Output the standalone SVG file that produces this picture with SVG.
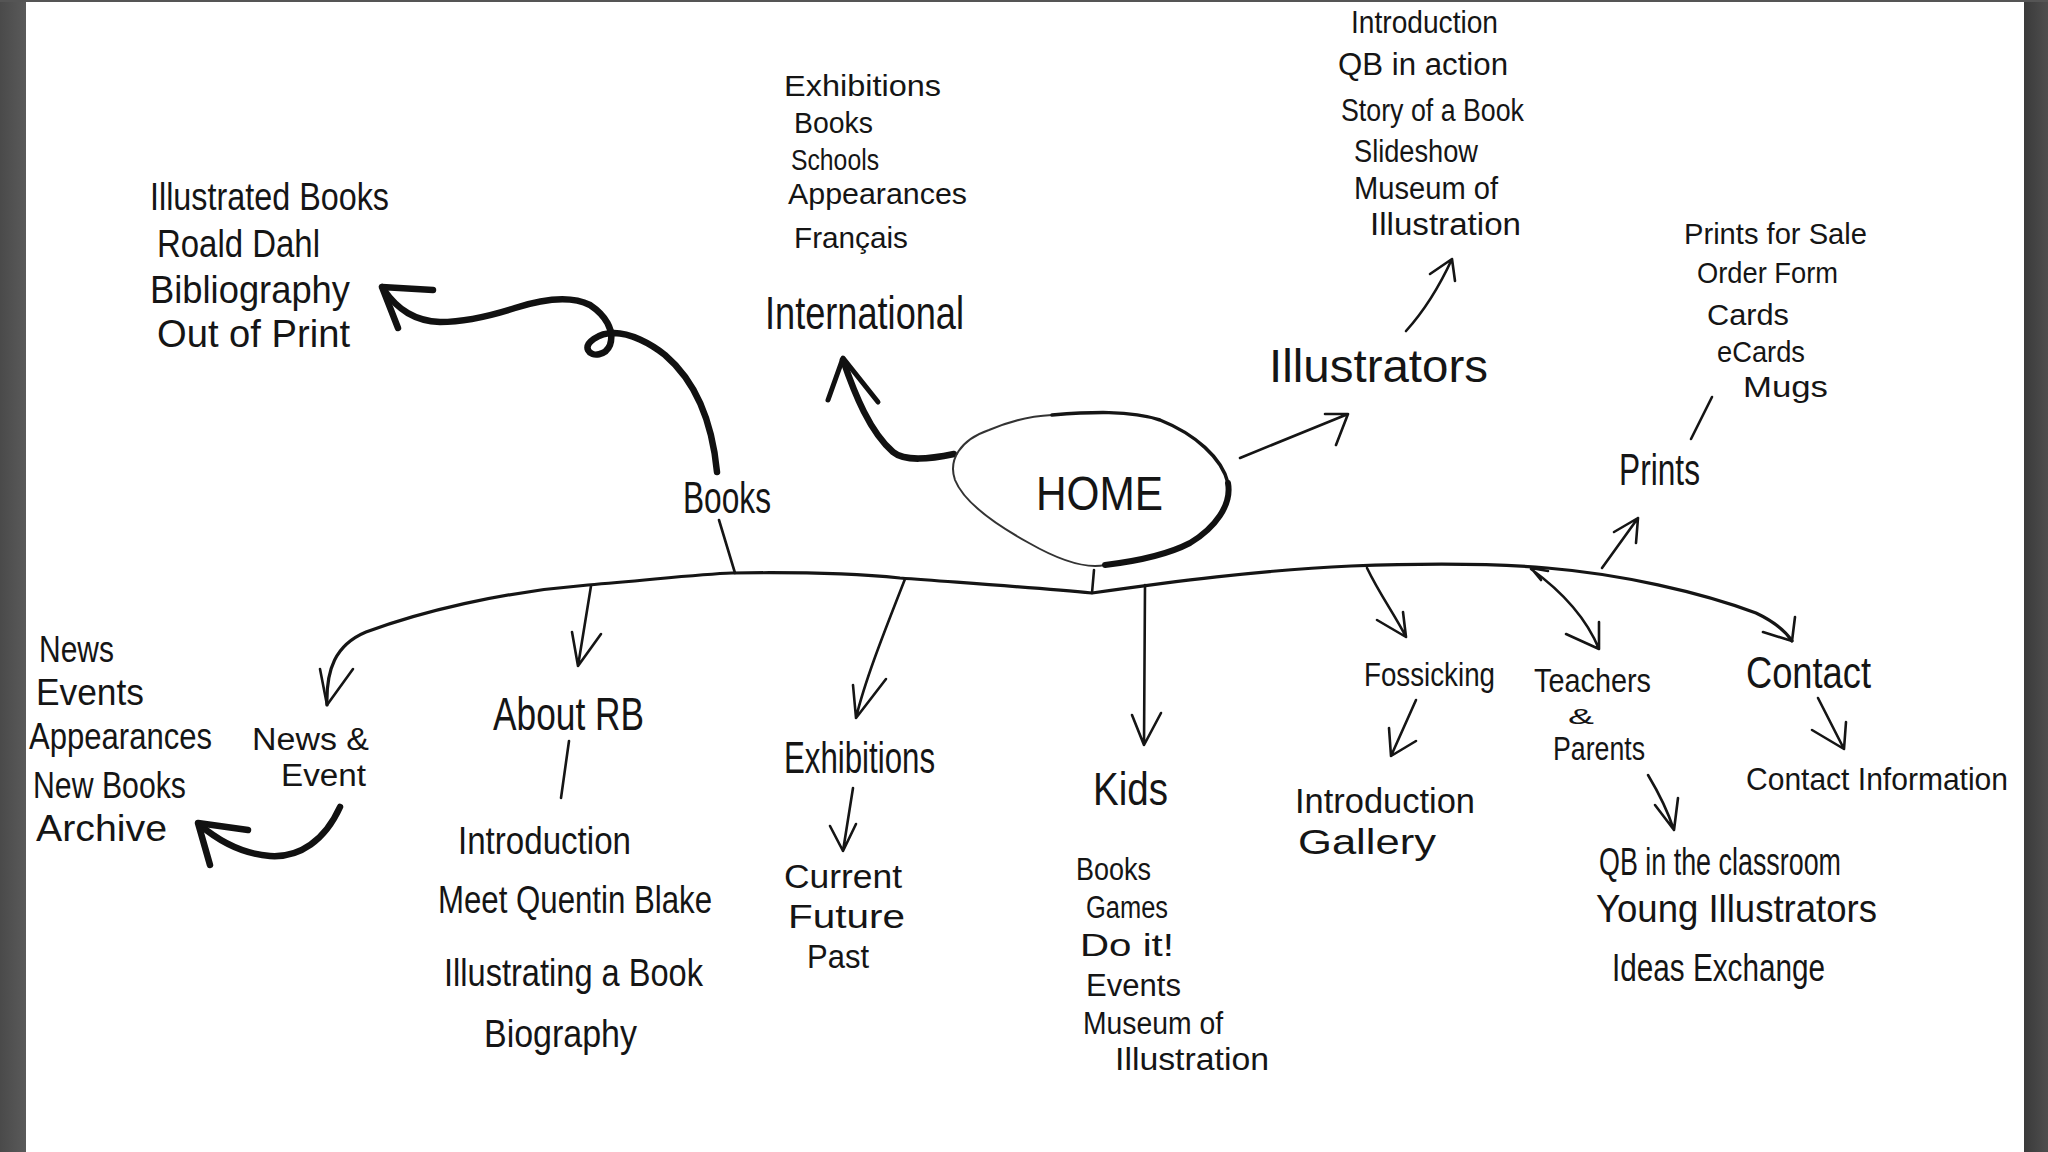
<svg xmlns="http://www.w3.org/2000/svg" width="2048" height="1152" viewBox="0 0 2048 1152">
<style>
.t{font-family:"Liberation Sans","DejaVu Sans",Arial,sans-serif;fill:#151515;}
.f22{font-size:22px}.f30{font-size:30px}.f31{font-size:31px}.f34{font-size:34px}.f35{font-size:35px}.f37{font-size:37px}.f38{font-size:38px}.f42{font-size:42px}.f44{font-size:44px}.f46{font-size:46px}.f48{font-size:48px}
.ln{fill:none;stroke:#151515;stroke-width:2.6;stroke-linecap:round;stroke-linejoin:round}
.main{fill:none;stroke:#151515;stroke-width:3.2;stroke-linecap:round;stroke-linejoin:round}
.thick{fill:none;stroke:#111;stroke-width:6.5;stroke-linecap:round;stroke-linejoin:round}
.thin{fill:none;stroke:#333;stroke-width:2;stroke-linecap:round}
</style>
<defs>
<linearGradient id="gl" x1="0" x2="1" y1="0" y2="0"><stop offset="0" stop-color="#4a4a4a"/><stop offset="1" stop-color="#5a5a5a"/></linearGradient>
<linearGradient id="gr" x1="0" x2="1" y1="0" y2="0"><stop offset="0" stop-color="#3a3a3a"/><stop offset="1" stop-color="#4e4e4e"/></linearGradient>
</defs>
<rect x="0" y="0" width="2048" height="1152" fill="#ffffff"/>
<rect x="0" y="0" width="26" height="1152" fill="url(#gl)"/>
<rect x="2024" y="0" width="24" height="1152" fill="url(#gr)"/>
<rect x="0" y="0" width="2048" height="2" fill="#555"/>

<g id="connectors">
<path class="main" d="M 327 705 C 326 670 335 645 366 632 C 420 612 500 592 588 585 C 650 580 700 574 732 573 C 800 572 860 574 900 578 C 980 584 1040 588 1092 593 C 1170 582 1260 570 1351 566 C 1430 563 1500 564 1547 568 C 1620 574 1700 592 1756 613 C 1775 622 1786 632 1792 641"/>
<path class="ln" d="M 320 669 L 327 705 L 353 669"/>
<path class="ln" d="M 1763 632 L 1792 641 L 1795 617"/>
<path class="ln" d="M 1094 570 L 1092 593"/>
<path class="ln" d="M 719 520 L 735 573"/>
<path class="ln" d="M 591 586 L 578 666 M 572 632 L 578 666 L 601 634"/>
<path class="ln" d="M 905 579 C 885 630 865 680 856 718 M 853 685 L 856 718 L 886 679"/>
<path class="ln" d="M 1145 585 L 1144 745 M 1132 715 L 1144 745 L 1161 713"/>
<path class="ln" d="M 1367 568 C 1380 595 1395 615 1406 637 M 1377 620 L 1406 637 L 1403 612"/>
<path class="ln" d="M 1531 569 C 1560 590 1585 615 1599 649 M 1566 634 L 1599 649 L 1599 622 M 1548 571 L 1531 568 L 1541 580"/>
<path class="ln" d="M 1602 568 L 1638 518 M 1614 532 L 1638 518 L 1636 543"/>
<path class="ln" d="M 1691 439 L 1712 397"/>
<path class="ln" d="M 1240 458 L 1348 414 M 1325 414 L 1348 414 L 1336 445"/>
<path class="ln" d="M 1406 331 C 1425 310 1440 285 1452 259 M 1430 274 L 1452 259 L 1455 281"/>
<path class="ln" d="M 569 741 L 561 798"/>
<path class="ln" d="M 853 788 L 843 851 M 830 826 L 843 851 L 856 824"/>
<path class="ln" d="M 1416 700 L 1391 756 M 1389 728 L 1391 756 L 1416 741"/>
<path class="ln" d="M 1648 775 C 1660 795 1668 812 1674 830 M 1655 805 L 1674 830 L 1678 798"/>
<path class="ln" d="M 1818 698 L 1844 749 M 1812 730 L 1844 749 L 1846 722"/>
<path class="thick" d="M 717 472 C 713 430 700 385 665 355 C 650 343 630 333 614 333 C 598 333 585 343 588 350 C 592 358 606 355 610 345 C 615 330 605 315 590 305 C 570 295 540 300 515 308 C 490 316 465 322 440 322 C 415 321 398 310 384 290"/>
<path class="thick" d="M 382 287 L 433 290 M 382 287 L 398 328"/>
<path class="thick" d="M 954 454 C 930 459 905 462 893 452 C 870 432 855 395 843 360"/>
<path class="thick" d="M 828 400 L 843 358 L 878 402" style="stroke-width:5"/>
<path class="thick" d="M 340 807 C 325 840 300 858 270 856 C 245 854 220 842 200 825"/>
<path class="thick" d="M 248 830 L 198 823 L 210 865"/>
</g>

<g id="node-home">
<path class="thin" d="M 1105 565 C 1080 570 1050 555 1029 543 C 1000 527 965 505 955 480 C 948 460 960 440 989 430 C 1010 421 1030 416 1052 415"/>
<path fill="none" stroke="#151515" stroke-width="3.5" stroke-linecap="round" d="M 1052 415 C 1090 412 1130 410 1160 420 C 1195 434 1222 458 1228 483"/>
<path fill="none" stroke="#111" stroke-width="6" stroke-linecap="round" d="M 1228 483 C 1232 505 1215 528 1190 543 C 1165 556 1130 562 1105 565"/>
<text class="t f48" x="1036" y="510" textLength="127" lengthAdjust="spacingAndGlyphs">HOME</text>
</g>

<g id="node-books">
<text class="t f44" x="683" y="513" textLength="88" lengthAdjust="spacingAndGlyphs">Books</text>
</g>
<g id="node-books-list">
<text class="t f38" x="150" y="210" textLength="239" lengthAdjust="spacingAndGlyphs">Illustrated Books</text>
<text class="t f38" x="157" y="257" textLength="163" lengthAdjust="spacingAndGlyphs">Roald Dahl</text>
<text class="t f38" x="150" y="303" textLength="200" lengthAdjust="spacingAndGlyphs">Bibliography</text>
<text class="t f38" x="157" y="347" textLength="193" lengthAdjust="spacingAndGlyphs">Out of Print</text>
</g>

<g id="node-international">
<text class="t f46" x="765" y="329" textLength="199" lengthAdjust="spacingAndGlyphs">International</text>
</g>
<g id="node-international-list">
<text class="t f30" x="784" y="96" textLength="157" lengthAdjust="spacingAndGlyphs">Exhibitions</text>
<text class="t f30" x="794" y="133" textLength="79" lengthAdjust="spacingAndGlyphs">Books</text>
<text class="t f30" x="791" y="170" textLength="88" lengthAdjust="spacingAndGlyphs">Schools</text>
<text class="t f30" x="788" y="204" textLength="179" lengthAdjust="spacingAndGlyphs">Appearances</text>
<text class="t f30" x="794" y="248" textLength="114" lengthAdjust="spacingAndGlyphs">Français</text>
</g>

<g id="node-illustrators">
<text class="t f46" x="1269" y="382" textLength="219" lengthAdjust="spacingAndGlyphs">Illustrators</text>
</g>
<g id="node-illustrators-list">
<text class="t f31" x="1351" y="33" textLength="147" lengthAdjust="spacingAndGlyphs">Introduction</text>
<text class="t f31" x="1338" y="75" textLength="170" lengthAdjust="spacingAndGlyphs">QB in action</text>
<text class="t f31" x="1341" y="121" textLength="183" lengthAdjust="spacingAndGlyphs">Story of a Book</text>
<text class="t f31" x="1354" y="162" textLength="124" lengthAdjust="spacingAndGlyphs">Slideshow</text>
<text class="t f31" x="1354" y="199" textLength="144" lengthAdjust="spacingAndGlyphs">Museum of</text>
<text class="t f31" x="1370" y="235" textLength="151" lengthAdjust="spacingAndGlyphs">Illustration</text>
</g>

<g id="node-prints">
<text class="t f44" x="1619" y="485" textLength="81" lengthAdjust="spacingAndGlyphs">Prints</text>
</g>
<g id="node-prints-list">
<text class="t f30" x="1684" y="244" textLength="183" lengthAdjust="spacingAndGlyphs">Prints for Sale</text>
<text class="t f30" x="1697" y="283" textLength="141" lengthAdjust="spacingAndGlyphs">Order Form</text>
<text class="t f30" x="1707" y="325" textLength="82" lengthAdjust="spacingAndGlyphs">Cards</text>
<text class="t f30" x="1717" y="362" textLength="88" lengthAdjust="spacingAndGlyphs">eCards</text>
<text class="t f30" x="1743" y="397" textLength="85" lengthAdjust="spacingAndGlyphs">Mugs</text>
</g>

<g id="node-news">
<text class="t f31" x="252" y="750" textLength="117" lengthAdjust="spacingAndGlyphs">News &amp;</text>
<text class="t f31" x="281" y="786" textLength="85" lengthAdjust="spacingAndGlyphs">Event</text>
</g>
<g id="node-news-list">
<text class="t f37" x="39" y="662" textLength="75" lengthAdjust="spacingAndGlyphs">News</text>
<text class="t f37" x="36" y="705" textLength="108" lengthAdjust="spacingAndGlyphs">Events</text>
<text class="t f37" x="29" y="749" textLength="183" lengthAdjust="spacingAndGlyphs">Appearances</text>
<text class="t f37" x="33" y="798" textLength="153" lengthAdjust="spacingAndGlyphs">New Books</text>
<text class="t f37" x="36" y="841" textLength="131" lengthAdjust="spacingAndGlyphs">Archive</text>
</g>

<g id="node-about">
<text class="t f46" x="493" y="730" textLength="151" lengthAdjust="spacingAndGlyphs">About RB</text>
</g>
<g id="node-about-list">
<text class="t f38" x="458" y="854" textLength="173" lengthAdjust="spacingAndGlyphs">Introduction</text>
<text class="t f38" x="438" y="913" textLength="274" lengthAdjust="spacingAndGlyphs">Meet Quentin Blake</text>
<text class="t f38" x="444" y="986" textLength="259" lengthAdjust="spacingAndGlyphs">Illustrating a Book</text>
<text class="t f38" x="484" y="1047" textLength="153" lengthAdjust="spacingAndGlyphs">Biography</text>
</g>

<g id="node-exhibitions">
<text class="t f44" x="784" y="773" textLength="151" lengthAdjust="spacingAndGlyphs">Exhibitions</text>
</g>
<g id="node-exhibitions-list">
<text class="t f34" x="784" y="888" textLength="118" lengthAdjust="spacingAndGlyphs">Current</text>
<text class="t f34" x="788" y="928" textLength="117" lengthAdjust="spacingAndGlyphs">Future</text>
<text class="t f34" x="807" y="968" textLength="62" lengthAdjust="spacingAndGlyphs">Past</text>
</g>

<g id="node-kids">
<text class="t f46" x="1093" y="805" textLength="75" lengthAdjust="spacingAndGlyphs">Kids</text>
</g>
<g id="node-kids-list">
<text class="t f31" x="1076" y="880" textLength="75" lengthAdjust="spacingAndGlyphs">Books</text>
<text class="t f31" x="1086" y="918" textLength="82" lengthAdjust="spacingAndGlyphs">Games</text>
<text class="t f31" x="1080" y="956" textLength="94" lengthAdjust="spacingAndGlyphs">Do it!</text>
<text class="t f31" x="1086" y="996" textLength="95" lengthAdjust="spacingAndGlyphs">Events</text>
<text class="t f31" x="1083" y="1034" textLength="140" lengthAdjust="spacingAndGlyphs">Museum of</text>
<text class="t f31" x="1115" y="1070" textLength="154" lengthAdjust="spacingAndGlyphs">Illustration</text>
</g>

<g id="node-fossicking">
<text class="t f34" x="1364" y="686" textLength="131" lengthAdjust="spacingAndGlyphs">Fossicking</text>
</g>
<g id="node-fossicking-list">
<text class="t f35" x="1295" y="813" textLength="180" lengthAdjust="spacingAndGlyphs">Introduction</text>
<text class="t f35" x="1298" y="854" textLength="138" lengthAdjust="spacingAndGlyphs">Gallery</text>
</g>

<g id="node-teachers">
<text class="t f34" x="1534" y="692" textLength="117" lengthAdjust="spacingAndGlyphs">Teachers</text>
<text class="t f22" x="1568" y="724" textLength="26" lengthAdjust="spacingAndGlyphs">&amp;</text>
<text class="t f34" x="1553" y="760" textLength="92" lengthAdjust="spacingAndGlyphs">Parents</text>
</g>
<g id="node-teachers-list">
<text class="t f38" x="1599" y="875" textLength="242" lengthAdjust="spacingAndGlyphs">QB in the classroom</text>
<text class="t f38" x="1596" y="922" textLength="281" lengthAdjust="spacingAndGlyphs">Young Illustrators</text>
<text class="t f38" x="1612" y="981" textLength="213" lengthAdjust="spacingAndGlyphs">Ideas Exchange</text>
</g>

<g id="node-contact">
<text class="t f44" x="1746" y="688" textLength="125" lengthAdjust="spacingAndGlyphs">Contact</text>
</g>
<g id="node-contact-list">
<text class="t f31" x="1746" y="790" textLength="262" lengthAdjust="spacingAndGlyphs">Contact Information</text>
</g>
</svg>
